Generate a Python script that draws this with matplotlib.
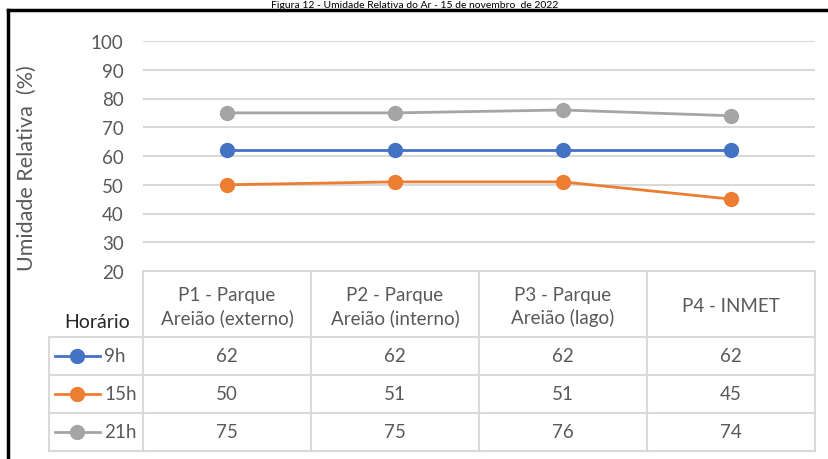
import matplotlib
matplotlib.use("Agg")
import matplotlib.pyplot as plt
from matplotlib.lines import Line2D

plt.rcParams['font.family'] = ['Lato', 'DejaVu Sans']

title = "Figura 12 - Umidade Relativa do Ar - 15 de novembro  de 2022"
categories = ["P1 - Parque\nAreião (externo)", "P2 - Parque\nAreião (interno)",
              "P3 - Parque\nAreião (lago)", "P4 - INMET"]
series_names = ["9h", "15h", "21h"]
v_9h = [62, 62, 62, 62]
v_15h = [50, 51, 51, 45]
v_21h = [75, 75, 76, 74]
colors = ["#4472C4", "#ED7D31", "#A5A5A5"]
y_ticks = [20, 30, 40, 50, 60, 70, 80, 90, 100]
ylabel = "Umidade Relativa  (%)"
table_header = "Horário"

series_values = [v_9h, v_15h, v_21h]

W, H = 829, 460
fig = plt.figure(figsize=(W / 100, H / 100), dpi=100)

def fx(px):
    return px / W

def fy(py):
    return 1 - py / H

# plot axes
x0, x1 = 143, 815
y_top, y_bot = 42, 272
ax = fig.add_axes([fx(x0), fy(y_bot), fx(x1) - fx(x0), fy(y_top) - fy(y_bot)])
ax.set_xlim(-0.5, len(categories) - 0.5)
ax.set_ylim(20, 100)
for t in y_ticks[1:]:
    ax.axhline(t, color="#D9D9D9", lw=1.5, zorder=1)
ax.set_yticks(y_ticks)
ax.set_yticklabels([str(t) for t in y_ticks], fontsize=13.5, color="#595959")
ax.tick_params(axis="y", length=0, pad=14)
ax.set_xticks([])
for s in ax.spines.values():
    s.set_visible(False)
ax.patch.set_alpha(0)
xs = list(range(len(categories)))
for vals, c in zip(series_values, colors):
    ax.plot(xs, vals, color=c, lw=2, marker="o", ms=10, zorder=3, clip_on=False)

fig.text(fx(27), fy(168), ylabel, rotation=90, ha="center", va="center",
         fontsize=15.5, color="#595959")

# table axes in pixel coordinates
tx0, ty0, ty1 = 49, 272, 452
tab = fig.add_axes([fx(tx0), fy(ty1), fx(x1) - fx(tx0), fy(ty0) - fy(ty1)])
tab.set_xlim(tx0, x1)
tab.set_ylim(ty1, ty0)
tab.axis("off")
tab.patch.set_alpha(0)
gc = "#D9D9D9"
col_w = (x1 - x0) / len(categories)
col_edges = [x0 + i * col_w for i in range(len(categories) + 1)]
row_edges = [272, 338, 376, 414, 452]
tab.plot([x0, x1], [272, 272], color=gc, lw=1.5, clip_on=False)
for r in row_edges[1:]:
    tab.plot([tx0, x1], [r, r], color=gc, lw=1.5, clip_on=False)
for i, cx in enumerate(col_edges):
    tab.plot([cx, cx], [272, 452], color=gc, lw=1.5, clip_on=False)
tab.plot([tx0, tx0], [338, 452], color=gc, lw=1.5, clip_on=False)

for i, cat in enumerate(categories):
    cxm = (col_edges[i] + col_edges[i + 1]) / 2
    tab.text(cxm, (row_edges[0] + row_edges[1]) / 2 + 2, cat, ha="center", va="center",
             fontsize=13.5, color="#595959", linespacing=1.35)
tab.text(97, 323, table_header, ha="center", va="center", fontsize=14, color="#262626")

for j, (name, vals, c) in enumerate(zip(series_names, series_values, colors)):
    ym = (row_edges[j + 1] + row_edges[j + 2]) / 2
    tab.plot([55, 100], [ym, ym], color=c, lw=2, clip_on=False)
    tab.plot([77], [ym], marker="o", ms=10, color=c, clip_on=False)
    tab.text(104, ym, name, ha="left", va="center", fontsize=13.5, color="#595959")
    for i, v in enumerate(vals):
        cxm = (col_edges[i] + col_edges[i + 1]) / 2
        tab.text(cxm, ym, str(v), ha="center", va="center", fontsize=13.5, color="#595959")

# outer frame and title
fig.add_artist(Line2D([fx(8), fx(8)], [fy(11), 0], color="black", lw=2.5))
fig.add_artist(Line2D([fx(8), 1], [fy(11), fy(11)], color="black", lw=2.5))
fig.text(0.5, fy(0.5), title, ha="center", va="top", fontsize=7.5, color="black")

fig.savefig("out.png", dpi=100)
